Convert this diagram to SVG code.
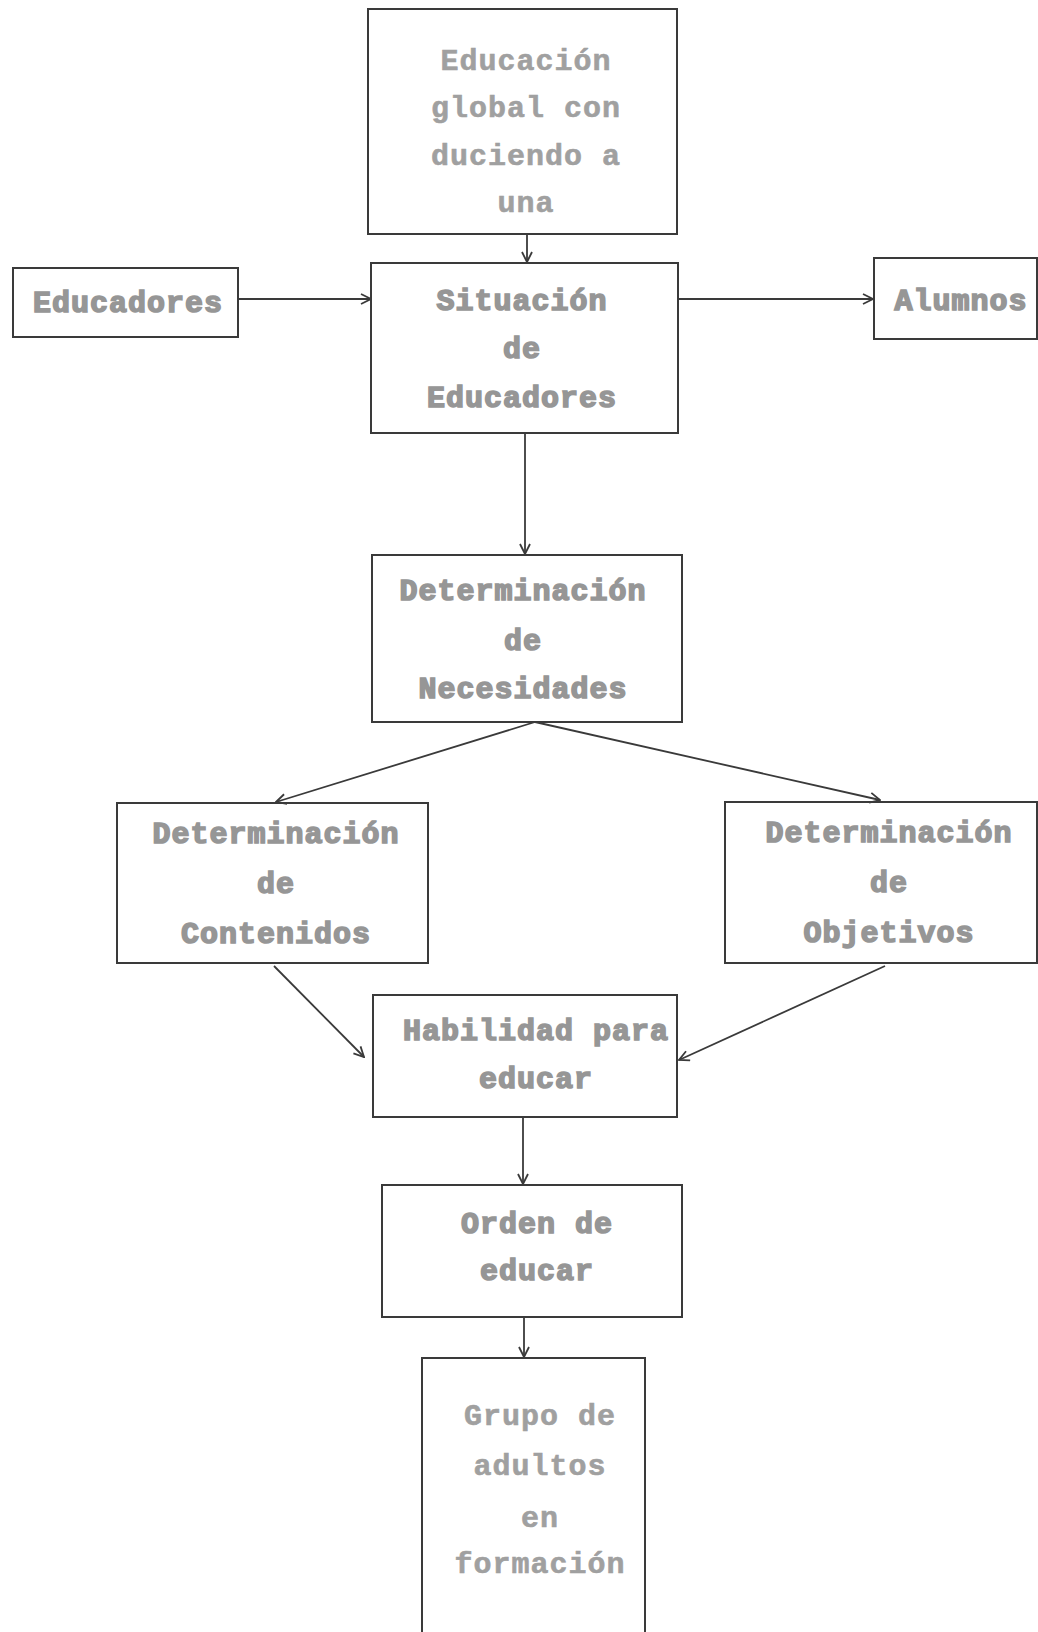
<svg xmlns="http://www.w3.org/2000/svg" width="1038" height="1632" viewBox="0 0 1038 1632">
<style>
.box{fill:none;stroke:#3a3a3a;stroke-width:2}
.t{font-family:"Liberation Mono","DejaVu Sans Mono",monospace;font-size:30px;font-weight:bold;fill:#969696;stroke:#969696;stroke-width:1.6px;text-anchor:middle;letter-spacing:1px}
.tl{fill:#a0a0a0;stroke:#a0a0a0;stroke-width:0.6px}
.c{fill:none;stroke:#3a3a3a;stroke-width:1.8}
</style>
<defs>
<marker id="ah" viewBox="0 0 12 12" refX="11" refY="6" markerWidth="12" markerHeight="12" markerUnits="userSpaceOnUse" orient="auto">
<polyline points="1,1 11,6 1,11" fill="none" stroke="#3a3a3a" stroke-width="1.8"/>
</marker>
</defs>
<rect width="1038" height="1632" fill="#ffffff"/>
<g id="connectors">
<line class="c" x1="527" y1="234" x2="527" y2="262" marker-end="url(#ah)"/>
<line class="c" x1="238" y1="299" x2="371" y2="299" marker-end="url(#ah)"/>
<line class="c" x1="678" y1="299" x2="873" y2="299" marker-end="url(#ah)"/>
<line class="c" x1="525" y1="433" x2="525" y2="554" marker-end="url(#ah)"/>
<line class="c" x1="535" y1="722" x2="276" y2="802" marker-end="url(#ah)"/>
<line class="c" x1="535" y1="722" x2="880" y2="800" marker-end="url(#ah)"/>
<line class="c" x1="274" y1="966" x2="364" y2="1057" marker-end="url(#ah)"/>
<line class="c" x1="885" y1="966" x2="679" y2="1060" marker-end="url(#ah)"/>
<line class="c" x1="523" y1="1117" x2="523" y2="1184" marker-end="url(#ah)"/>
<line class="c" x1="524" y1="1318" x2="524" y2="1357" marker-end="url(#ah)"/>
</g>
<g id="n1">
<rect class="box" x="368" y="9" width="309" height="225"/>
<text class="t tl" x="526" y="70">Educación</text>
<text class="t tl" x="526" y="117">global con</text>
<text class="t tl" x="526" y="165">duciendo a</text>
<text class="t tl" x="526" y="212">una</text>
</g>
<g id="n2">
<rect class="box" x="13" y="268" width="225" height="69"/>
<text class="t" x="128" y="312">Educadores</text>
</g>
<g id="n3">
<rect class="box" x="371" y="263" width="307" height="170"/>
<text class="t" x="522" y="310">Situación</text>
<text class="t" x="522" y="358">de</text>
<text class="t" x="522" y="407">Educadores</text>
</g>
<g id="n4">
<rect class="box" x="874" y="258" width="163" height="81"/>
<text class="t" x="961" y="310">Alumnos</text>
</g>
<g id="n5">
<rect class="box" x="372" y="555" width="310" height="167"/>
<text class="t" x="523" y="600">Determinación</text>
<text class="t" x="523" y="650">de</text>
<text class="t" x="523" y="698">Necesidades</text>
</g>
<g id="n6">
<rect class="box" x="117" y="803" width="311" height="160"/>
<text class="t" x="276" y="843">Determinación</text>
<text class="t" x="276" y="893">de</text>
<text class="t" x="276" y="943">Contenidos</text>
</g>
<g id="n7">
<rect class="box" x="725" y="802" width="312" height="161"/>
<text class="t" x="889" y="842">Determinación</text>
<text class="t" x="889" y="892">de</text>
<text class="t" x="889" y="942">Objetivos</text>
</g>
<g id="n8">
<rect class="box" x="373" y="995" width="304" height="122"/>
<text class="t" x="536" y="1040">Habilidad para</text>
<text class="t" x="536" y="1088">educar</text>
</g>
<g id="n9">
<rect class="box" x="382" y="1185" width="300" height="132"/>
<text class="t" x="537" y="1233">Orden de</text>
<text class="t" x="537" y="1280">educar</text>
</g>
<g id="n10">
<rect class="box" x="422" y="1358" width="223" height="290"/>
<text class="t tl" x="540" y="1425">Grupo de</text>
<text class="t tl" x="540" y="1475">adultos</text>
<text class="t tl" x="540" y="1527">en</text>
<text class="t tl" x="540" y="1573">formación</text>
</g>
</svg>
